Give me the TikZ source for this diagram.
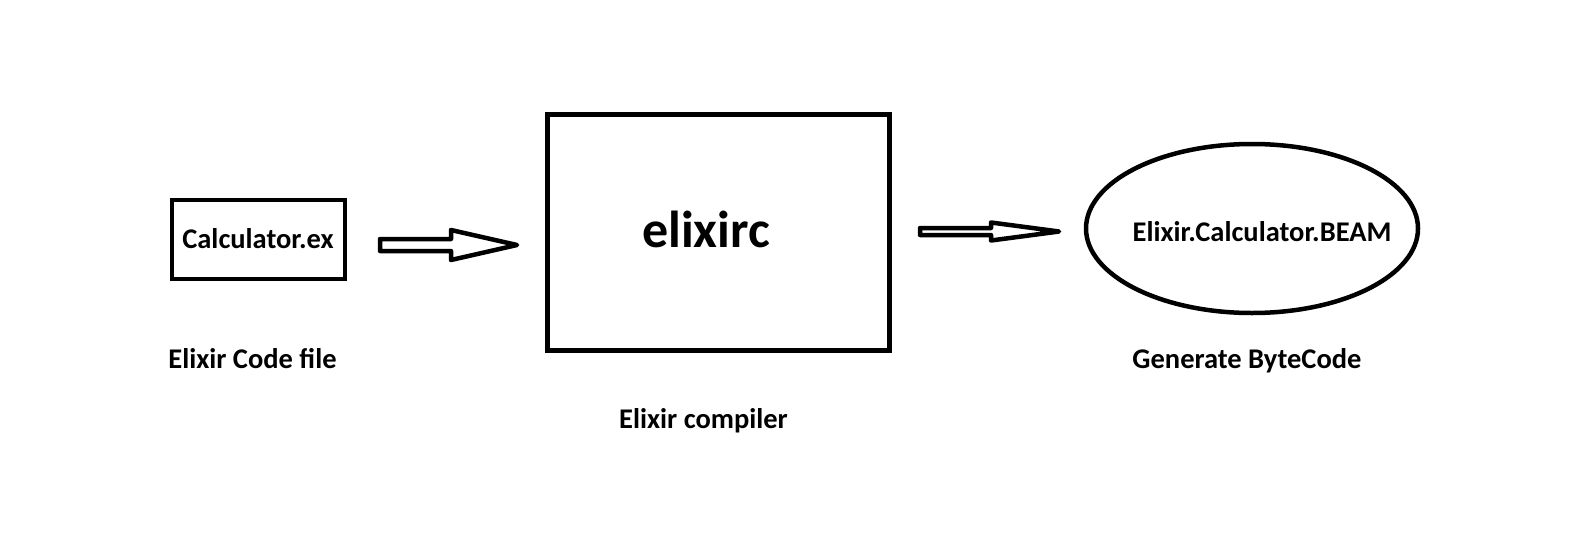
\documentclass[tikz,border=0pt]{standalone}
\usepackage{fontspec}
\setmainfont{Carlito}
\usetikzlibrary{calc,shapes.geometric}
\tikzset{
  lbl/.style={font=\fontsize{28.5}{31}\selectfont\bfseries, inner sep=0pt, anchor=base},
  boxline/.style={draw=black, line width=4.5pt},
  blockarrow/.style={draw=black, line width=4.5pt, line join=round, fill=white},
}
\begin{document}
\begin{tikzpicture}[x=1pt,y=-1pt]
\useasboundingbox (0,0) rectangle (1579,533);
% shapes
\draw[boxline] (172,200) rectangle (345,279);
\node[lbl] (calc) at (258,248) {Calculator.ex};
\node[lbl] (codefile) at (252.5,368) {Elixir Code file};
\draw[boxline, line width=5pt] (547,114) rectangle (889,350);
\node[lbl, font=\fontsize{52}{56}\selectfont\bfseries] (elixirc) at (706,247) {elixirc};
\node[lbl] (compiler) at (703.5,428) {Elixir compiler};
\draw[boxline] (1252,228.5) ellipse [x radius=166, y radius=84.5];
\node[lbl] (beam) at (1262,241.7) {Elixir.Calculator.BEAM};
\node[lbl] (bytecode) at (1247,368) {Generate ByteCode};
% arrows
\coordinate (a1s) at (380,245);
\coordinate (a1e) at (517,245);
\draw[blockarrow] ($(a1s)+(0,-6)$) -- ($(a1e)+(-66,-6)$) -- ($(a1e)+(-66,-15)$) -- (a1e)
  -- ($(a1e)+(-66,15)$) -- ($(a1e)+(-66,6)$) -- ($(a1s)+(0,6)$) -- cycle;
\coordinate (a2s) at (920,231.5);
\coordinate (a2e) at (1059,231.5);
\draw[blockarrow] ($(a2s)+(0,-3.5)$) -- ($(a2e)+(-68,-3.5)$) -- ($(a2e)+(-68,-9)$) -- (a2e)
  -- ($(a2e)+(-68,9)$) -- ($(a2e)+(-68,3.5)$) -- ($(a2s)+(0,3.5)$) -- cycle;
\end{tikzpicture}
\end{document}
